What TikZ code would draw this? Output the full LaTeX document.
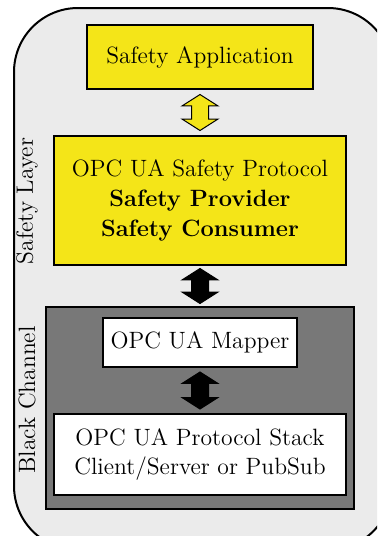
\documentclass[tikz,border=0pt]{standalone}
\usetikzlibrary{shapes.arrows,calc}
\definecolor{safeyellow}{RGB}{244,229,24}
\definecolor{layerbg}{RGB}{235,235,235}
\definecolor{channelgray}{RGB}{120,120,120}
\tikzset{
  txt/.style={font=\fontsize{11.8}{14.8}\selectfont},
  box/.style={draw=black, line width=0.8pt, inner sep=0pt, align=center, txt},
  dblarrow/.style={double arrow, rotate=90, draw=black, line width=0.5pt,
    inner xsep=0pt, inner ysep=4pt, double arrow head extend=4.75pt,
    double arrow tip angle=115},
  sidelabel/.style={rotate=90, txt, inner sep=0pt}
}
\begin{document}
\begin{tikzpicture}[x=0.5pt,y=-0.5pt]
  \useasboundingbox (0,0) rectangle (377,536);
  \clip (0,0) rectangle (377,536);
  % outer safety layer frame
  \draw[fill=layerbg, line width=1pt, rounded corners=32pt] (14,8) rectangle (392,550);
  % safety part
  \node[box, fill=safeyellow, minimum width=113pt, minimum height=32pt] (app) at (200,57) {Safety Application};
  \node[box, fill=safeyellow, minimum width=146pt, minimum height=64.5pt] (prot) at (200,200.5)
    {OPC UA Safety Protocol\\\textbf{Safety Provider}\\\textbf{Safety Consumer}};
  % black channel
  \node[box, fill=channelgray, minimum width=154pt, minimum height=101pt] (chan) at (200,408) {};
  \node[box, fill=white, minimum width=97pt, minimum height=24.5pt] (mapper) at (200,342.5) {OPC UA Mapper};
  \node[box, fill=white, minimum width=146pt, minimum height=40.5pt] (stack) at (200,454.5)
    {OPC UA Protocol Stack\\Client/Server or PubSub};
  % connecting double arrows
  \node[dblarrow, fill=safeyellow, minimum height=18pt] (a1) at ($(app.south)!0.5!(prot.north)$) {};
  \node[dblarrow, fill=black, minimum height=17.5pt] (a2) at ($(prot.south)!0.5!(chan.north)$) {};
  \node[dblarrow, fill=black, minimum height=18.5pt] (a3) at ($(mapper.south)!0.5!(stack.north)$) {};
  % side labels
  \node[sidelabel] (lsafe) at (27,201) {Safety Layer};
  \node[sidelabel] (lchan) at (27,400) {Black Channel};
\end{tikzpicture}
\end{document}
